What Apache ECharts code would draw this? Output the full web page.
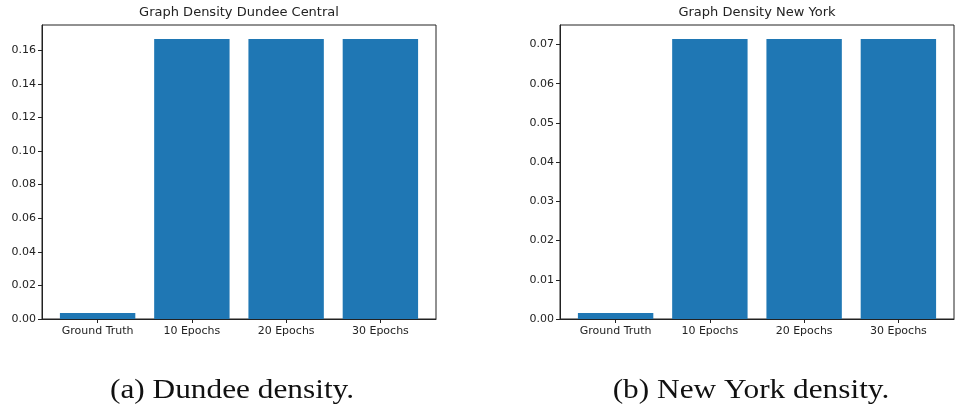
<!DOCTYPE html>
<html><head><meta charset="utf-8">
<script src="https://cdn.jsdelivr.net/npm/echarts@6/dist/echarts.min.js"></script>
<style>html,body{margin:0;padding:0;background:#fff}#c{width:959px;height:411px}</style>
</head><body><div id="c"></div>
<script>
const categories = ['Ground Truth', '10 Epochs', '20 Epochs', '30 Epochs'];
const dundeeValues = [0.0036, 0.1667, 0.1667, 0.1667];
const newYorkValues = [0.0015, 0.0714, 0.0714, 0.0714];
const dundeeTicks = [0, 0.02, 0.04, 0.06, 0.08, 0.10, 0.12, 0.14, 0.16];
const newYorkTicks = [0, 0.01, 0.02, 0.03, 0.04, 0.05, 0.06, 0.07];
const titles = ['Graph Density Dundee Central', 'Graph Density New York'];
const captions = ['(a) Dundee density.', '(b) New York density.'];

const chart = echarts.init(document.getElementById('c'), null, {renderer: 'canvas'});
const GW = 394, GH = 294, GT = 25;
const lefts = [42, 560];
const xMin = -0.59, xMax = 3.59;
const barW = 0.8 * GW / (xMax - xMin);
const font = 'DejaVu Sans';
const txt = '#222';
const idx = categories.map((c, i) => i);

function xAxis(g) {
  return {
    type: 'value', gridIndex: g, min: xMin, max: xMax,
    axisLine: {show: true, onZero: false, lineStyle: {color: txt, width: 1}},
    axisTick: {show: true, length: 4, customValues: idx, lineStyle: {color: txt}},
    axisLabel: {customValues: idx, formatter: v => categories[Math.round(v)], color: txt, fontFamily: font, fontSize: 11, margin: 7},
    splitLine: {show: false}
  };
}
function yAxis(g, ticks, max) {
  return {
    type: 'value', gridIndex: g, min: 0, max: max,
    axisLine: {show: true, onZero: false, lineStyle: {color: txt, width: 1}},
    axisTick: {show: true, length: 4, customValues: ticks, lineStyle: {color: txt}},
    axisLabel: {customValues: ticks, formatter: v => v.toFixed(2), color: txt, fontFamily: font, fontSize: 11, margin: 6},
    splitLine: {show: false}
  };
}
const option = {
  animation: false,
  grid: lefts.map(l => ({left: l, top: GT, width: GW, height: GH, show: true, borderColor: txt, borderWidth: 1, backgroundColor: 'transparent'})),
  xAxis: [xAxis(0), xAxis(1)],
  yAxis: [yAxis(0, dundeeTicks, Math.max(...dundeeValues) * 1.05), yAxis(1, newYorkTicks, Math.max(...newYorkValues) * 1.05)],
  series: [dundeeValues, newYorkValues].map((vals, g) => ({
    type: 'bar', xAxisIndex: g, yAxisIndex: g, barWidth: barW,
    itemStyle: {color: '#1f77b4'},
    data: vals.map((v, i) => [i, v])
  })),
  graphic: [
    ...titles.map((t, g) => ({type: 'text', x: lefts[g] + GW / 2, y: 13, style: {text: t, align: 'center', verticalAlign: 'middle', font: '13px "DejaVu Sans"', fill: txt}})),
    ...captions.map((t, g) => ({type: 'text', x: [232, 751][g], y: 391, scaleX: 1.16, style: {text: t, align: 'center', verticalAlign: 'middle', font: '27px "Liberation Serif"', fill: '#111'}}))
  ]
};
chart.setOption(option);
</script></body></html>
